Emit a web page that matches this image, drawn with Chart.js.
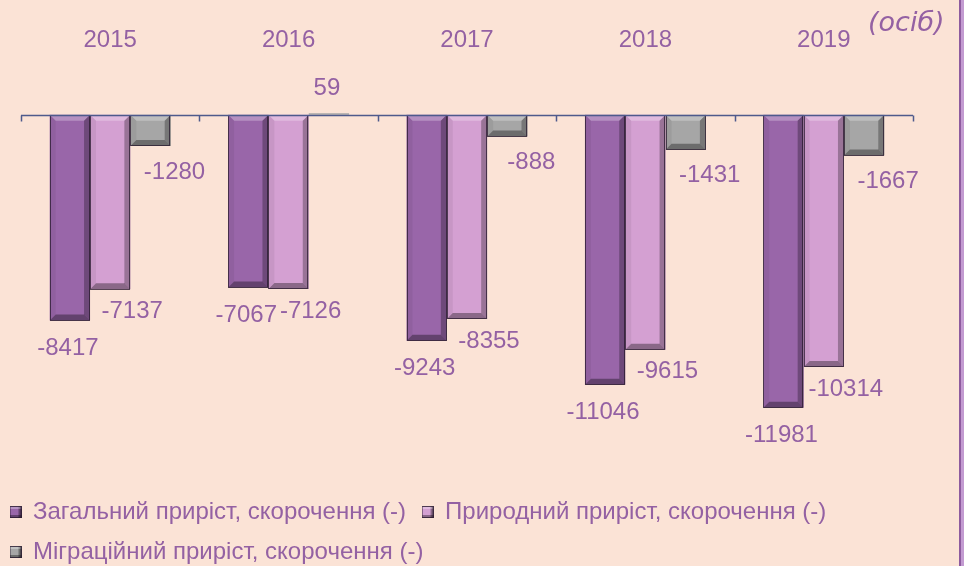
<!DOCTYPE html>
<html>
<head>
<meta charset="utf-8">
<script src="https://cdn.jsdelivr.net/npm/chart.js@4/dist/chart.umd.min.js"></script>
<style>
  html, body { margin: 0; padding: 0; }
  body { width: 964px; height: 566px; background: #fbe3d6; position: relative; overflow: hidden; }
  #wrap { position: absolute; left: 0; top: 0; width: 959px; height: 566px; }
  #edge { position: absolute; left: 959px; top: 0; width: 2px; height: 566px; background: #8e5b9f; }
  #edge2 { position: absolute; left: 961px; top: 0; width: 3px; height: 566px; background: #c39bd1; }
  #unit { position: absolute; left: 868px; top: 6px; font: oblique 27px "DejaVu Sans", sans-serif; color: #9461a3; }
</style>
</head>
<body>
<div id="wrap"><canvas id="popChart" width="959" height="566"></canvas></div>
<div id="edge"></div><div id="edge2"></div>
<div id="unit">(осіб)</div>
<script>
// -------------------------------
// DATA
// -------------------------------
const years = ['2015', '2016', '2017', '2018', '2019'];
const totalGrowth = [-8417, -7067, -9243, -11046, -11981];
const naturalGrowth = [-7137, -7126, -8355, -9615, -10314];
const migrationGrowth = [-1280, 59, -888, -1431, -1667];
const seriesNames = [
    'Загальний приріст, скорочення (-)',
    'Природний приріст, скорочення (-)',
    'Міграційний приріст, скорочення (-)'
];

const TEXT = '#9461a3';
const AXIS = '#4e5a8c';
const FONT = '"Liberation Sans", Arial, sans-serif';

// small beveled squares for the legend
function legendBox(color) {
    const c = document.createElement('canvas');
    c.width = 12; c.height = 12;
    const g = c.getContext('2d');
    g.fillStyle = color; g.fillRect(0, 0, 12, 12);
    g.fillStyle = 'rgba(0,0,0,0.35)';
    g.fillRect(0, 9, 12, 3); g.fillRect(9, 0, 3, 12);
    g.fillStyle = 'rgba(255,255,255,0.3)';
    g.fillRect(0, 0, 12, 3);
    g.strokeStyle = 'rgba(40,25,45,0.8)'; g.strokeRect(0.5, 0.5, 11, 11);
    return c;
}

const barColors = ['#9966a9', '#d4a0d2', '#a6a6a6'];

// bevel look of the excel bars
const bevelPlugin = {
    id: 'bevel',
    afterDatasetsDraw(chart) {
        const ctx = chart.ctx;
        chart.data.datasets.forEach((ds, i) => {
            chart.getDatasetMeta(i).data.forEach(el => {
                const p = el.getProps(['x', 'y', 'base', 'width'], true);
                const l = p.x - p.width / 2, r = p.x + p.width / 2;
                const t = Math.min(p.y, p.base), b = Math.max(p.y, p.base);
                const h = b - t;
                if (h < 3) return;
                const bv = Math.min(6, h / 2);
                ctx.save();
                // top
                ctx.fillStyle = 'rgba(255,255,255,0.28)';
                ctx.beginPath();
                ctx.moveTo(l, t); ctx.lineTo(r, t); ctx.lineTo(r - bv, t + bv); ctx.lineTo(l + bv, t + bv);
                ctx.closePath(); ctx.fill();
                // left
                ctx.fillStyle = 'rgba(0,0,0,0.06)';
                ctx.beginPath();
                ctx.moveTo(l, t); ctx.lineTo(l + bv, t + bv); ctx.lineTo(l + bv, b - bv); ctx.lineTo(l, b);
                ctx.closePath(); ctx.fill();
                // right
                ctx.fillStyle = 'rgba(0,0,0,0.28)';
                ctx.beginPath();
                ctx.moveTo(r, t); ctx.lineTo(r - bv, t + bv); ctx.lineTo(r - bv, b - bv); ctx.lineTo(r, b);
                ctx.closePath(); ctx.fill();
                // bottom
                ctx.fillStyle = 'rgba(0,0,0,0.35)';
                ctx.beginPath();
                ctx.moveTo(l, b); ctx.lineTo(r, b); ctx.lineTo(r - bv, b - bv); ctx.lineTo(l + bv, b - bv);
                ctx.closePath(); ctx.fill();
                ctx.strokeStyle = 'rgba(40,25,45,0.75)';
                ctx.lineWidth = 1;
                ctx.strokeRect(Math.round(l) + 0.5, Math.round(t) + 0.5, Math.round(r - l) - 1, Math.round(h) - 1);
                ctx.restore();
            });
        });
    }
};

// zero line with tick marks at category borders
const axisPlugin = {
    id: 'zeroAxis',
    afterDatasetsDraw(chart) {
        const ctx = chart.ctx;
        const x = chart.scales.x, y = chart.scales.y;
        const y0 = Math.round(y.getPixelForValue(0)) + 0.5;
        ctx.save();
        ctx.strokeStyle = AXIS;
        ctx.lineWidth = 1.5;
        ctx.beginPath();
        ctx.moveTo(chart.chartArea.left, y0);
        ctx.lineTo(chart.chartArea.right, y0);
        for (let i = 0; i <= years.length; i++) {
            const px = Math.round(x.getPixelForValue(i - 0.5)) + 0.5;
            ctx.moveTo(px, y0);
            ctx.lineTo(px, y0 + 6);
        }
        ctx.stroke();
        ctx.restore();
    }
};

// value labels near the bar ends
const labelOffsets = [{ dx: -2, dy: 28 }, { dx: 22, dy: 22 }, { dx: 24, dy: 26 }];
const valueLabels = {
    id: 'valueLabels',
    afterDatasetsDraw(chart) {
        const ctx = chart.ctx;
        ctx.save();
        ctx.font = '24px ' + FONT;
        ctx.fillStyle = TEXT;
        ctx.textAlign = 'center';
        ctx.textBaseline = 'middle';
        chart.data.datasets.forEach((ds, i) => {
            chart.getDatasetMeta(i).data.forEach((el, j) => {
                const v = ds.data[j];
                const off = labelOffsets[i];
                const yy = v < 0 ? el.y + off.dy : el.y - 25;
                const xx = v < 0 ? el.x + off.dx : el.x - 2;
                ctx.fillText(String(v), xx, yy);
            });
        });
        ctx.restore();
    }
};

new Chart(document.getElementById('popChart'), {
    type: 'bar',
    data: {
        labels: years,
        datasets: [
            { label: seriesNames[0], data: totalGrowth, backgroundColor: barColors[0] },
            { label: seriesNames[1], data: naturalGrowth, backgroundColor: barColors[1] },
            { label: seriesNames[2], data: migrationGrowth, backgroundColor: barColors[2] }
        ].map((d, i) => Object.assign(d, {
            categoryPercentage: 0.678,
            barPercentage: 1,
            pointStyle: legendBox(barColors[i])
        }))
    },
    options: {
        responsive: false,
        animation: false,
        layout: { padding: { left: -6, right: 46, top: 15, bottom: -8 } },
        plugins: {
            legend: {
                position: 'bottom',
                align: 'start',
                labels: {
                    usePointStyle: true,
                    boxWidth: 11,
                    boxHeight: 11,
                    padding: 16,
                    color: TEXT,
                    font: { family: FONT, size: 24 }
                }
            },
            tooltip: { enabled: false }
        },
        scales: {
            x: {
                position: 'top',
                grid: { display: false, drawTicks: false },
                border: { display: false },
                ticks: { color: TEXT, padding: 11, font: { family: FONT, size: 24 } }
            },
            y: {
                min: -15100,
                max: 2000,
                grid: { display: false },
                border: { display: false },
                ticks: { display: false },
                afterFit(scale) { scale.width = 27; }
            }
        }
    },
    plugins: [bevelPlugin, axisPlugin, valueLabels]
});
</script>
</body>
</html>
